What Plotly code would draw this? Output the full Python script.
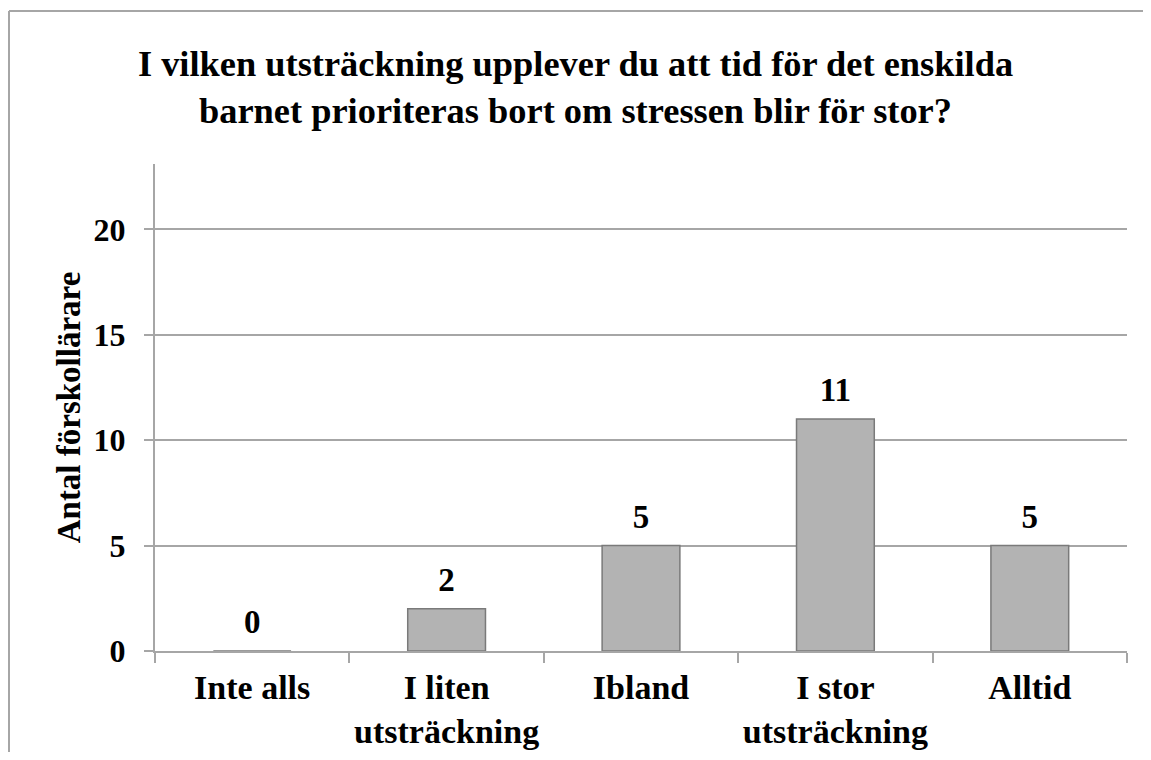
import plotly.graph_objects as go

categories = ["Inte alls", "I liten<br>utsträckning", "Ibland", "I stor<br>utsträckning", "Alltid"]
values = [0, 2, 5, 11, 5]
y_ticks = [0, 5, 10, 15, 20]
title_text = "I vilken utsträckning upplever du att tid för det enskilda<br>barnet prioriteras bort om stressen blir för stor?"
y_title = "Antal förskollärare"

FONT = "Liberation Serif"
GRID = "#a6a6a6"

# page body has an 8px offset; compensate in size and margins
FW, FH = 1135, 744
L, T = 147, 156
PW, PH = 972, 487
R = FW - L - PW
B = FH - T - PH

fig = go.Figure()
fig.add_trace(go.Bar(
    x=categories,
    y=values,
    marker=dict(color="#b3b3b3", line=dict(color="#7a7a7a", width=1.5)),
    width=0.4,
    hoverinfo="skip",
))
fig.add_trace(go.Scatter(
    x=categories,
    y=values,
    mode="markers+text",
    text=[str(v) for v in values],
    textposition="top center",
    marker=dict(size=14, color="rgba(0,0,0,0)"),
    textfont=dict(family=FONT, size=33, color="black", weight="bold"),
    cliponaxis=False,
    hoverinfo="skip",
))

bx = (1 - L) / PW
by = (T + PH - 3) / PH
fig.update_layout(
    width=FW, height=FH,
    margin=dict(l=L, r=R, t=T, b=B, autoexpand=False),
    paper_bgcolor="white", plot_bgcolor="white",
    showlegend=False,
    title=dict(text=title_text, x=(1151 / 2 - 8) / FW, xref="container", xanchor="center",
               y=1 - 68 / FH, yref="container", yanchor="top",
               font=dict(family=FONT, size=36.4, color="black", weight="bold")),
    font=dict(family=FONT, color="black"),
    shapes=[
        dict(type="line", xref="paper", yref="paper", x0=bx, x1=(FW - L) / PW, y0=by, y1=by,
             line=dict(color=GRID, width=2), layer="below"),
        dict(type="line", xref="paper", yref="paper", x0=bx, x1=bx, y0=by, y1=-B / PH,
             line=dict(color=GRID, width=2), layer="below"),
    ],
)

fig.update_xaxes(
    showline=True, linecolor=GRID, linewidth=2, layer="above traces",
    ticks="outside", tickson="boundaries", ticklen=10, tickcolor=GRID, tickwidth=2,
    tickangle=0, automargin=False, ticklabelstandoff=5,
    tickfont=dict(family=FONT, size=34, color="black", weight="bold"),
    showgrid=False,
)
fig.update_yaxes(
    range=[0, 23.1], tickvals=y_ticks, automargin=False,
    showline=True, linecolor=GRID, linewidth=2,
    ticks="outside", ticklen=9, tickcolor=GRID, tickwidth=2,
    showgrid=True, gridcolor=GRID, gridwidth=2,
    zeroline=False,
    tickfont=dict(family=FONT, size=32, color="black", weight="bold"),
    ticklabelstandoff=12,
    title=dict(text=y_title, standoff=3,
               font=dict(family=FONT, size=33, color="black", weight="bold")),
)

fig.write_html("out.html")
